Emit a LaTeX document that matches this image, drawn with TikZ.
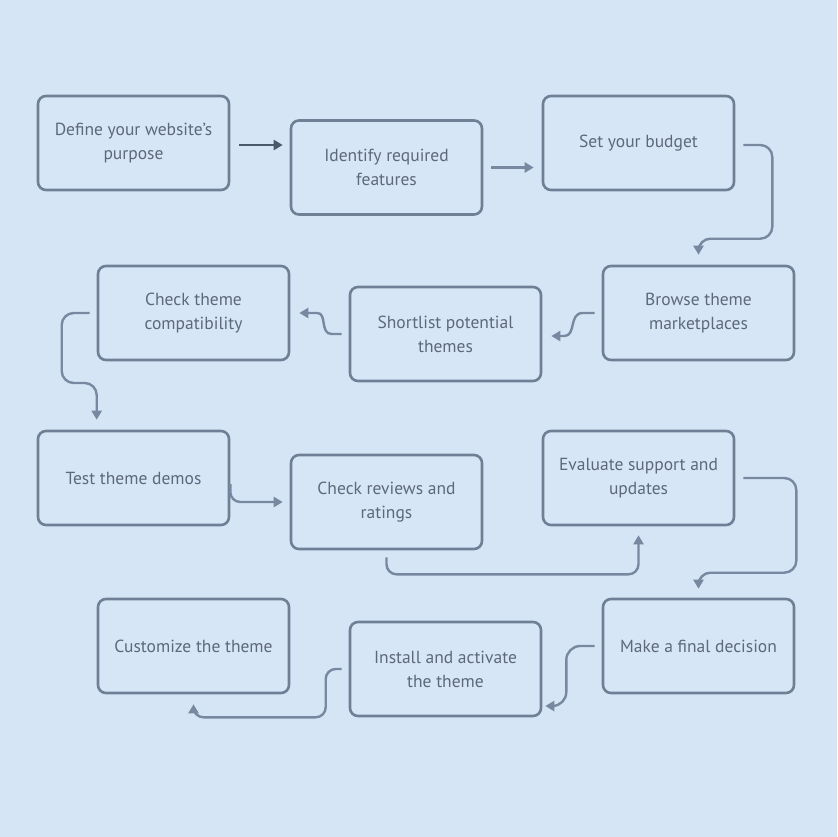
\documentclass[tikz,border=0pt]{standalone}
\usepackage{fontspec}
\setmainfont{PT Sans}
\usetikzlibrary{arrows.meta}
\definecolor{bg}{HTML}{D5E5F5}
\definecolor{boxfill}{HTML}{D7E6F6}
\definecolor{boxline}{HTML}{6F7F96}
\definecolor{txt}{HTML}{5D6879}
\definecolor{arrowc}{HTML}{7888A0}
\definecolor{arrowdark}{HTML}{4A596C}
\begin{document}
\begin{tikzpicture}[x=1pt, y=-1pt,
  stepbox/.style={draw=boxline, line width=2.6pt, rounded corners=8pt, fill=boxfill,
    minimum width=191pt, minimum height=94pt, align=center,
    text=txt, font=\fontsize{17.5}{24}\selectfont},
  link/.style={draw=arrowc, line width=2.4pt, -{Triangle[length=9pt,width=10pt]}}]
  \fill[bg] (0,0) rectangle (837,837);
  \useasboundingbox (0,0) rectangle (837,837);
  \node[stepbox] (define) at (133.5,143) {Define your website's\\purpose};
  \node[stepbox] (identify) at (386.5,167.5) {Identify required\\features};
  \node[stepbox] (budget) at (638.5,143) {Set your budget};
  \node[stepbox] (browse) at (698.5,313) {Browse theme\\marketplaces};
  \node[stepbox] (shortlist) at (445.5,334) {Shortlist potential\\themes};
  \node[stepbox] (compat) at (193.5,313) {Check theme\\compatibility};
  \node[stepbox] (demos) at (133.5,478) {Test theme demos};
  \node[stepbox] (reviews) at (386.5,502) {Check reviews and\\ratings};
  \node[stepbox] (support) at (638.5,478) {Evaluate support and\\updates};
  \node[stepbox] (decide) at (698.5,646) {Make a final decision};
  \node[stepbox] (install) at (445.5,669) {Install and activate\\the theme};
  \node[stepbox] (custom) at (193.5,646) {Customize the theme};
  \draw[link, draw=arrowdark] ([xshift=9pt,yshift=-2pt]define.east) -- ([xshift=-7pt,yshift=-2pt]identify.west |- define.east);
  \draw[link] ([xshift=8pt]identify.east) -- ([xshift=-8pt]budget.west |- identify.east);
  \draw[link, rounded corners=12pt] ([xshift=8pt,yshift=-2pt]budget.east) -- ++(29,0) |- ([yshift=26pt]browse.north) -- ([yshift=10pt]browse.north);
  \draw[link] ([xshift=-7pt]browse.west) -- ++(-12,0) .. controls +(-14,0) and +(12,0) .. ([xshift=22pt,yshift=-2pt]shortlist.east) -- ([xshift=9pt,yshift=-2pt]shortlist.east);
  \draw[link] ([xshift=-7pt]shortlist.west) -- ++(-10,0) .. controls +(-12,0) and +(10,0) .. ([xshift=27pt]compat.east) -- ([xshift=9pt]compat.east);
  \draw[link, rounded corners=12pt] ([xshift=-7pt]compat.west) -| ++(-28,70) -| ([yshift=10pt]compat.west |- demos.north);
  \draw[link, rounded corners=10pt] ([yshift=-6pt]demos.east) |- ([xshift=-7pt]reviews.west);
  \draw[link, rounded corners=10pt] ([yshift=-7pt]reviews.south) -- ++(0,17) -| ([yshift=-9pt]support.south);
  \draw[link, rounded corners=12pt] ([xshift=8pt]support.east) -- ++(53,0) |- ([yshift=25pt]decide.north) -- ([yshift=9pt]decide.north);
  \draw[link, rounded corners=14pt] ([xshift=-7pt]decide.west) -| ([xshift=24pt,yshift=-37pt]install.east) -- ([xshift=3pt,yshift=-37pt]install.east);
  \draw[link, rounded corners=10pt] ([xshift=-7pt]install.west) -- ++(-16,0) |- ([yshift=-23pt]custom.south) -- ([yshift=-10pt]custom.south);
\end{tikzpicture}
\end{document}
